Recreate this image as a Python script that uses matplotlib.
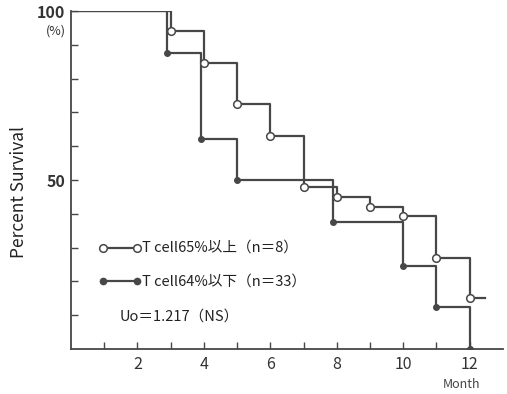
import numpy as np
import matplotlib
matplotlib.use("Agg")
import matplotlib.pyplot as plt

plt.rcParams['font.family'] = ['Noto Sans CJK JP', 'DejaVu Sans']

# survival curves (month, percent surviving)
high_t = [0, 3, 4, 5, 6, 7, 8, 9, 10, 11, 12, 12.45]
high_s = [100, 94, 84.5, 72.5, 63, 48, 45, 42, 39.5, 27, 15, 15]
low_t = [0, 2.9, 3.9, 5, 7.9, 10, 11, 12]
low_s = [100, 87.5, 62, 50, 37.5, 24.5, 12.5, 0]

high_label = "T cell65%以上（n＝8）"
low_label = "T cell64%以下（n＝33）"
stat_label = "Uo＝1.217（NS）"
month_ticks = [2, 4, 6, 8, 10, 12]

ink = "#474747"

fig = plt.figure(figsize=(5.07, 3.94), dpi=100)
ax = fig.add_axes([0.140, 0.114, 0.852, 0.858])

ax.step(high_t, high_s, where="post", color=ink, lw=1.6)
ax.step(low_t, low_s, where="post", color=ink, lw=1.6)
ax.plot(high_t[1:-1], high_s[1:-1], "o", ms=5.5, mfc="white", mec=ink, mew=1.1)
ax.plot(low_t[1:], low_s[1:], "o", ms=4, mfc=ink, mec=ink)

# legend samples
ax.plot([0.95, 2.0], [30, 30], color=ink, lw=1.6)
ax.plot([0.95, 2.0], [30, 30], "o", ms=5.5, mfc="white", mec=ink, mew=1.1)
ax.text(2.15, 30, high_label, va="center", ha="left", fontsize=10.5, color="#222")
ax.plot([0.95, 2.0], [20, 20], color=ink, lw=1.6)
ax.plot([0.95, 2.0], [20, 20], "o", ms=4.5, mfc=ink, mec=ink)
ax.text(2.15, 20, low_label, va="center", ha="left", fontsize=10.5, color="#222")
ax.text(1.45, 9.5, stat_label, va="center", ha="left", fontsize=10.5, color="#222")

ax.set_xlim(0, 13)
ax.set_ylim(0, 100)
ax.spines["top"].set_visible(False)
ax.spines["right"].set_visible(False)
for s in ["left", "bottom"]:
    ax.spines[s].set_color(ink)
    ax.spines[s].set_linewidth(1.3)

ax.set_xticks(month_ticks)
ax.set_xticklabels([str(m) for m in month_ticks], fontsize=11.5, color="#333")
ax.set_xticks(range(1, 13), minor=True)
ax.set_yticks([50, 100])
ax.set_yticklabels(["50", "100"], fontsize=11.5, color="#333", fontweight="bold")
ax.set_yticks(range(10, 100, 10), minor=True)
ax.tick_params(axis="both", which="both", direction="in", length=5, color=ink, width=1)
ax.tick_params(axis="x", pad=5)
ax.tick_params(axis="y", pad=4)

ax.text(-0.15, 94.2, "(%)", ha="right", va="center", fontsize=9, color="#333")
ax.text(11.75, -10.6, "Month", ha="center", va="center", fontsize=9, color="#444")
ax.set_ylabel("Percent Survival", fontsize=12.5, color="#222")
ax.yaxis.set_label_coords(-0.1, 0.464)

fig.savefig("out.png", dpi=100)
